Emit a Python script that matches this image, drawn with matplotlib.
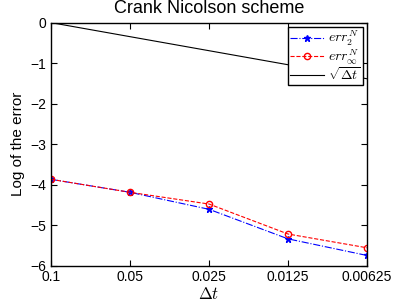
import numpy as np
import matplotlib.pyplot as plt

plt.rcParams["font.family"] = ["Liberation Sans", "DejaVu Sans"]
plt.rcParams["mathtext.fontset"] = "cm"

# time steps and log errors
dt_labels = ["0.1", "0.05", "0.025", "0.0125", "0.00625"]
dt = np.array([0.1, 0.05, 0.025, 0.0125, 0.00625])
err_2 = [-3.87, -4.19, -4.61, -5.34, -5.75]
err_inf = [-3.87, -4.19, -4.48, -5.22, -5.56]

idx = np.arange(1, len(dt) + 1)
ref = 0.5 * np.log(dt / dt[0])

fig = plt.figure(figsize=(3.93, 3.06), dpi=100)
ax = fig.add_axes([0.130, 0.132, 0.804, 0.794])

ax.plot(idx, err_2, "b-.", marker="*", markersize=4.5, lw=0.8,
        label=r"$err_2^N$")
ax.plot(idx, err_inf, "r--", marker="o", markersize=4.5, lw=0.8,
        markerfacecolor="none", label=r"$err_\infty^N$")
ax.plot(idx, ref, "k-", lw=0.8, label=r"$\sqrt{\Delta t}$")

ax.set_xlim(1, 5)
ax.set_ylim(-6, 0)
ax.set_xticks(idx)
ax.set_xticklabels(dt_labels)
ax.set_yticks(range(-6, 1))
ax.set_yticklabels([str(v).replace("-", "\u2212") for v in range(-6, 1)])
ax.tick_params(direction="in", labelsize=10, length=4, top=True, right=True)
for s in ax.spines.values():
    s.set_linewidth(1.0)

ax.set_xlabel(r"$\Delta t$", fontsize=12, labelpad=1)
ax.set_ylabel("Log of the error", fontsize=11)
ax.set_title("Crank Nicolson scheme", fontsize=13, pad=7)

leg = ax.legend(loc="upper right", fontsize=10, fancybox=False,
                edgecolor="black", framealpha=1, borderpad=0.15,
                handlelength=2.4, handletextpad=0.35, labelspacing=-0.05,
                borderaxespad=0.3)
leg.get_frame().set_linewidth(1.0)

fig.savefig("out.png", dpi=100)
